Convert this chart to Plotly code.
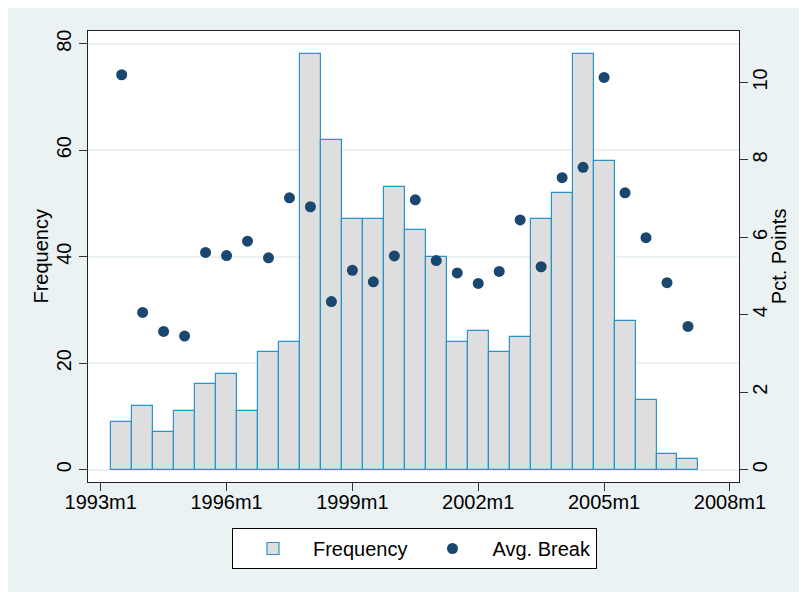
import plotly.graph_objects as go

# half-year bins (midpoints, Stata monthly notation)
bin_mid = ["1993m7", "1994m1", "1994m7", "1995m1", "1995m7", "1996m1", "1996m7",
           "1997m1", "1997m7", "1998m1", "1998m7", "1999m1", "1999m7", "2000m1",
           "2000m7", "2001m1", "2001m7", "2002m1", "2002m7", "2003m1", "2003m7",
           "2004m1", "2004m7", "2005m1", "2005m7", "2006m1", "2006m7", "2007m1"]

frequency = [9, 12, 7, 11, 16, 18, 11, 22, 24, 78, 62, 47, 47, 53,
             45, 40, 24, 26, 22, 25, 47, 52, 78, 58, 28, 13, 3, 2]

avg_break = [10.20, 4.06, 3.57, 3.45, 5.61, 5.53, 5.90, 5.47, 7.02, 6.79, 4.34, 5.15, 4.85, 5.52,
             6.97, 5.40, 5.08, 4.81, 5.12, 6.45, 5.24, 7.54, 7.81, 10.13, 7.15, 5.99, 4.83, 3.70]

tick_labels = ["1993m1", "1996m1", "1999m1", "2002m1", "2005m1", "2008m1"]


def stata_month(s):
    # months since 1960m1, like Stata's %tm
    y, m = s.split("m")
    return (int(y) - 1960) * 12 + int(m) - 1


x_mid = [stata_month(s) for s in bin_mid]
tick_vals = [stata_month(s) for s in tick_labels]

FONT = "Liberation Sans, Arial, sans-serif"
BG = "#EAF2F3"

fig = go.Figure()

fig.add_trace(go.Bar(
    x=x_mid, y=frequency, width=6, name="Frequency",
    marker=dict(color="#DEDEDE", line=dict(color="#2A93C9", width=1.2)),
    yaxis="y",
))

fig.add_trace(go.Scatter(
    x=x_mid, y=avg_break, mode="markers", name="Avg. Break",
    marker=dict(color="#1A476F", size=11),
    yaxis="y2",
))

# page body adds an 8px offset, so margins are trimmed by that
fig.update_layout(
    width=807, height=592,
    margin=dict(l=80, r=76, t=23, b=118, autoexpand=False),
    paper_bgcolor=BG,
    plot_bgcolor="white",
    font=dict(family=FONT, size=20, color="black"),
    bargap=0,
    showlegend=True,
    legend=dict(
        orientation="h", x=0.5015, xanchor="center", y=-0.102, yanchor="top",
        bordercolor="black", borderwidth=1, bgcolor="white",
        font=dict(size=20), itemwidth=70,
    ),
    xaxis=dict(
        range=[392.37, 578.6], automargin=False,
        tickmode="array", tickvals=tick_vals, ticktext=tick_labels,
        ticks="outside", ticklen=8, tickcolor="#333333",
        ticklabelstandoff=-6,
        showline=True, linecolor="#222222", linewidth=1, mirror=True,
        showgrid=False, zeroline=False,
    ),
    yaxis=dict(
        range=[-2.33, 82.39], automargin=False,
        tickmode="array", tickvals=[0, 20, 40, 60, 80],
        tickangle=-90,
        ticks="outside", ticklen=8, tickcolor="#333333",
        showline=True, linecolor="#222222", linewidth=1,
        showgrid=True, gridcolor=BG, gridwidth=1.5, zeroline=False,
    ),
    yaxis2=dict(
        range=[-0.32, 11.33], automargin=False,
        overlaying="y", side="right",
        tickmode="array", tickvals=[0, 2, 4, 6, 8, 10],
        tickangle=-90, ticklabelstandoff=-5,
        ticks="outside", ticklen=8, tickcolor="#333333",
        showline=True, linecolor="#222222", linewidth=1,
        showgrid=False, zeroline=False,
    ),
    annotations=[
        # axis titles, placed tight against the labels like Stata does
        dict(text="Frequency", xref="paper", yref="paper", x=-0.0737, y=0.5,
             xanchor="center", yanchor="middle", textangle=-90, showarrow=False,
             font=dict(size=20)),
        dict(text="Pct. Points", xref="paper", yref="paper", x=1.061, y=0.5,
             xanchor="center", yanchor="middle", textangle=-90, showarrow=False,
             font=dict(size=20)),
    ],
)

fig.write_html("out.html")
